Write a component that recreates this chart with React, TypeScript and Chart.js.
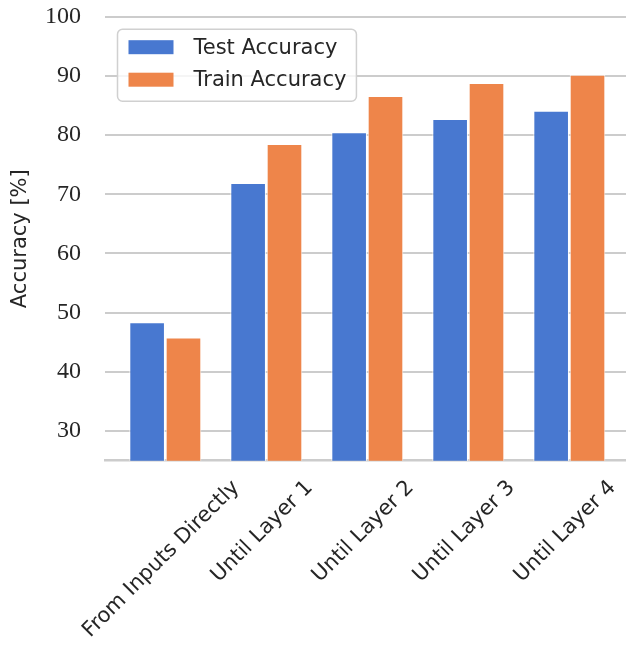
import { useEffect, useRef } from "react";
import { Chart, registerables } from "chart.js";

Chart.register(...registerables);

const categories = [
  "From Inputs Directly",
  "Until Layer 1",
  "Until Layer 2",
  "Until Layer 3",
  "Until Layer 4",
];
const testAccuracy = [48.4, 71.9, 80.5, 82.7, 84.1];
const trainAccuracy = [45.8, 78.5, 86.6, 88.8, 90.2];
const seriesLabels = ["Test Accuracy", "Train Accuracy"];
const seriesColors = ["#4878D0", "#EE854A"];
const yTicks = [30, 40, 50, 60, 70, 80, 90, 100];
const yTitle = "Accuracy [%]";

const TEXT = "#262626";
const SANS = "'DejaVu Sans', sans-serif";
const SERIF = "'Liberation Serif', serif";

const xLabelPlugin = {
  id: "xLabels",
  afterDraw(chart: any) {
    const ctx = chart.ctx;
    const xs = chart.scales.x;
    const area = chart.chartArea;
    ctx.save();
    ctx.font = `21px ${SANS}`;
    ctx.fillStyle = TEXT;
    ctx.textAlign = "center";
    ctx.textBaseline = "middle";
    categories.forEach((lab, i) => {
      const px = xs.getPixelForValue(i);
      const L = ctx.measureText(lab).width;
      const side = (L + 16) / Math.SQRT2;
      const cx = px - 4;
      const cy = area.bottom + 18 + side / 2;
      ctx.save();
      ctx.translate(cx, cy);
      ctx.rotate(-Math.PI / 4);
      ctx.fillText(lab, 0, 0);
      ctx.restore();
    });
    ctx.restore();
  },
};

const legendPlugin = {
  id: "boxLegend",
  afterDatasetsDraw(chart: any) {
    const ctx = chart.ctx;
    const area = chart.chartArea;
    ctx.save();
    ctx.font = `21px ${SANS}`;
    const left = area.left + 12.5;
    const top = area.top + 12.5;
    const textX = left + 76;
    let maxW = 0;
    chart.data.datasets.forEach((ds: any) => {
      maxW = Math.max(maxW, ctx.measureText(ds.label).width);
    });
    const w = textX + maxW + 10 - left;
    const h = 72;
    ctx.beginPath();
    ctx.roundRect(left, top, w, h, 5);
    ctx.fillStyle = "rgba(255,255,255,0.8)";
    ctx.fill();
    ctx.lineWidth = 1.5;
    ctx.strokeStyle = "#d0d0d0";
    ctx.stroke();
    chart.data.datasets.forEach((ds: any, i: number) => {
      const cy = top + 18 + i * 32.5;
      ctx.fillStyle = ds.backgroundColor;
      ctx.fillRect(left + 11, cy - 7, 45, 14);
      ctx.fillStyle = TEXT;
      ctx.textAlign = "left";
      ctx.textBaseline = "middle";
      ctx.fillText(ds.label, textX, cy + 1);
    });
    ctx.restore();
  },
};

export default function App() {
  const ref = useRef<HTMLCanvasElement>(null);
  useEffect(() => {
    const series = [testAccuracy, trainAccuracy];
    const chart = new Chart(ref.current as HTMLCanvasElement, {
      type: "bar",
      data: {
        datasets: series.map((vals, k) => ({
          label: seriesLabels[k],
          data: vals.map((v, i) => ({ x: i, y: v })),
          backgroundColor: seriesColors[k],
          borderColor: "rgba(255,255,255,0.85)",
          borderWidth: 1,
          categoryPercentage: 0.72,
          barPercentage: 0.98,
        })),
      },
      options: {
        responsive: false,
        animation: false,
        devicePixelRatio: 1,
        layout: { padding: { top: 16.7, left: 0, right: 0, bottom: 0 } },
        plugins: { legend: { display: false }, tooltip: { enabled: false } },
        scales: {
          x: {
            type: "linear",
            offset: false,
            min: -0.597,
            max: 4.561,
            afterBuildTicks: (s: any) => {
              s.ticks = categories.map((_, i) => ({ value: i }));
            },
            afterFit: (s: any) => {
              s.height = 650 - 460.7;
            },
            ticks: { display: false },
            grid: { display: false },
            border: { display: true, color: "#cccccc", width: 2.5 },
          },
          y: {
            min: 25,
            max: 100,
            afterBuildTicks: (s: any) => {
              s.ticks = yTicks.map((v) => ({ value: v }));
            },
            afterFit: (s: any) => {
              s.width = 105;
            },
            ticks: {
              font: { family: SERIF, size: 24 },
              color: TEXT,
              padding: 0,
            },
            grid: {
              color: "#cccccc",
              lineWidth: 2,
              drawTicks: true,
              tickLength: 24,
              tickColor: "rgba(0,0,0,0)",
            },
            border: { display: false },
            title: {
              display: true,
              text: yTitle,
              font: { family: SANS, size: 21 },
              color: TEXT,
              padding: { top: 8.4, bottom: 0 },
            },
          },
        },
      },
      plugins: [legendPlugin, xLabelPlugin],
    } as any);
    return () => chart.destroy();
  }, []);
  return (
    <div
      style={{
        position: "fixed",
        left: 0,
        top: 0,
        width: 626,
        height: 650,
        background: "#ffffff",
      }}
    >
      <canvas ref={ref} width={626} height={650} style={{ display: "block" }} />
    </div>
  );
}
